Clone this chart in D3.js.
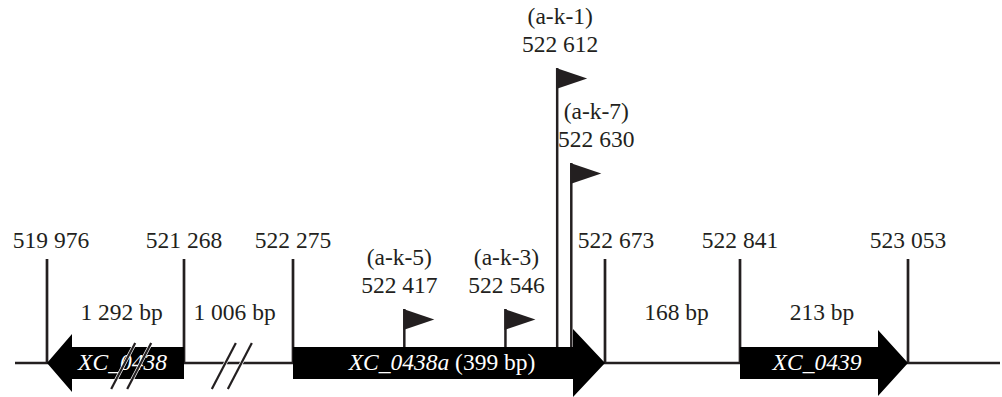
<!DOCTYPE html>
<html>
<head>
<meta charset="utf-8">
<script src="https://cdnjs.cloudflare.com/ajax/libs/d3/7.8.5/d3.min.js"></script>
<style>
  body { margin: 0; background: #fff; }
  svg { display: block; }
  text { font-family: "Liberation Serif", "Times New Roman", serif; font-size: 23.5px; fill: #231f20; }
</style>
</head>
<body>
<div id="chart"></div>
<script>
// genome coordinates of gene boundaries
const coords = [519976, 521268, 522275, 522673, 522841, 523053];
// genes between those boundaries
const geneNames = ['XC_0438', 'XC_0438a', 'XC_0439'];
const geneStart = [519976, 522275, 522841];
const geneEnd = [521268, 522673, 523053];
const geneStrand = [-1, 1, 1];
const geneNote = ['', ' (399 bp)', ''];
// length labels
const spanLabels = ['1 292 bp', '1 006 bp', '168 bp', '213 bp'];
const spanFrom = [519976, 521268, 522673, 522841];
const spanTo = [521268, 522275, 522841, 523053];
// insertion sites
const siteIds = ['a-k-5', 'a-k-3', 'a-k-1', 'a-k-7'];
const sitePos = [522417, 522546, 522612, 522630];
// axis breaks (the region is not drawn to scale there)
const breakPos = [520770, 521710];

const W = 1002, H = 397;
const baseY = 363;

const fmt = d3.formatLocale({decimal: '.', thousands: ' ', grouping: [3], currency: ['', '']}).format(',d');

// piecewise scale: every gene boundary keeps its own position
const x = d3.scaleLinear()
  .domain(coords)
  .range([47, 184, 293, 605, 740, 908]);

const svg = d3.select('#chart').append('svg')
  .attr('width', W)
  .attr('height', H);

// main line
svg.append('line')
  .attr('x1', 15).attr('x2', 1000)
  .attr('y1', baseY).attr('y2', baseY)
  .attr('stroke', '#231f20').attr('stroke-width', 2.5);

// boundary ticks + coordinate labels
const labelShift = {522673: 11, 519976: 4};
svg.selectAll('.tick').data(coords).enter().append('line')
  .attr('class', 'tick')
  .attr('x1', d => x(d)).attr('x2', d => x(d))
  .attr('y1', 259).attr('y2', baseY)
  .attr('stroke', '#231f20').attr('stroke-width', 2.7);

svg.selectAll('.coord').data(coords).enter().append('text')
  .attr('class', 'coord')
  .attr('x', d => x(d) + (labelShift[d] || 0))
  .attr('y', 248)
  .attr('text-anchor', 'middle')
  .text(d => fmt(d));

// flags (drawn before genes so the poles sit behind the arrows)
const siteTop = {'a-k-5': 309, 'a-k-3': 309, 'a-k-1': 68, 'a-k-7': 163};
const siteLabelDx = {'a-k-5': -5, 'a-k-3': 1, 'a-k-1': 3, 'a-k-7': 25};
const sites = siteIds.map((id, i) => ({id: id, pos: sitePos[i]}));

const flagG = svg.selectAll('.site').data(sites).enter().append('g').attr('class', 'site');
flagG.append('line')
  .attr('x1', d => x(d.pos)).attr('x2', d => x(d.pos))
  .attr('y1', d => siteTop[d.id]).attr('y2', baseY)
  .attr('stroke', '#231f20').attr('stroke-width', 2.5);
flagG.append('path')
  .attr('d', d => {
    const px = x(d.pos) - 1, t = siteTop[d.id];
    return `M${px},${t}L${px + 31},${t + 10.5}L${px},${t + 21}Z`;
  })
  .attr('fill', '#231f20');
flagG.append('text')
  .attr('x', d => x(d.pos) + siteLabelDx[d.id])
  .attr('y', d => siteTop[d.id] - 44)
  .attr('text-anchor', 'middle')
  .text(d => `(${d.id})`);
flagG.append('text')
  .attr('x', d => x(d.pos) + siteLabelDx[d.id])
  .attr('y', d => siteTop[d.id] - 16)
  .attr('text-anchor', 'middle')
  .text(d => fmt(d.pos));

// gene arrows
const headLen = [25, 32, 30];
const headHalf = [29, 34, 33];
const bodyHalf = 16;
const genes = geneNames.map((n, i) => ({
  name: n, start: geneStart[i], end: geneEnd[i], strand: geneStrand[i], note: geneNote[i], i: i
}));

function arrowPath(g) {
  const a = x(g.start), b = x(g.end);
  const hl = headLen[g.i], hh = headHalf[g.i], y = baseY;
  if (g.strand > 0) {
    const hb = b - hl;
    return `M${a},${y - bodyHalf}L${hb},${y - bodyHalf}L${hb},${y - hh}L${b},${y}L${hb},${y + hh}L${hb},${y + bodyHalf}L${a},${y + bodyHalf}Z`;
  }
  const hb = a + hl;
  return `M${b},${y - bodyHalf}L${hb},${y - bodyHalf}L${hb},${y - hh}L${a},${y}L${hb},${y + hh}L${hb},${y + bodyHalf}L${b},${y + bodyHalf}Z`;
}

const geneG = svg.selectAll('.gene').data(genes).enter().append('g').attr('class', 'gene');
geneG.append('path')
  .attr('d', arrowPath)
  .attr('fill', '#000');

const gl = geneG.append('text')
  .attr('x', d => (x(d.start) + x(d.end)) / 2 - 7 * d.strand)
  .attr('y', baseY + 7)
  .attr('text-anchor', 'middle')
  .style('fill', '#fff');
gl.append('tspan').style('font-style', 'italic').style('fill', '#fff').text(d => d.name);
gl.append('tspan').style('fill', '#fff').text(d => d.note);

// break marks "//"
breakPos.forEach(p => {
  const cx = x(p);
  [-8, 8].forEach(off => {
    const x1 = cx + off - 12, y1 = baseY + 26, x2 = cx + off + 12, y2 = baseY - 20;
    svg.append('line')
      .attr('x1', x1).attr('y1', y1).attr('x2', x2).attr('y2', y2)
      .attr('stroke', '#fff').attr('stroke-width', 3.6);
    svg.append('line')
      .attr('x1', x1).attr('y1', y1).attr('x2', x2).attr('y2', y2)
      .attr('stroke', '#231f20').attr('stroke-width', 2.2);
  });
});

// length labels
svg.selectAll('.span').data(spanLabels).enter().append('text')
  .attr('class', 'span')
  .attr('x', (d, i) => (x(spanFrom[i]) + x(spanTo[i])) / 2 + (i === 0 ? 6 : i === 1 ? -4 : i === 2 ? 4 : -2))
  .attr('y', 320)
  .attr('text-anchor', 'middle')
  .text(d => d);
</script>
</body>
</html>
